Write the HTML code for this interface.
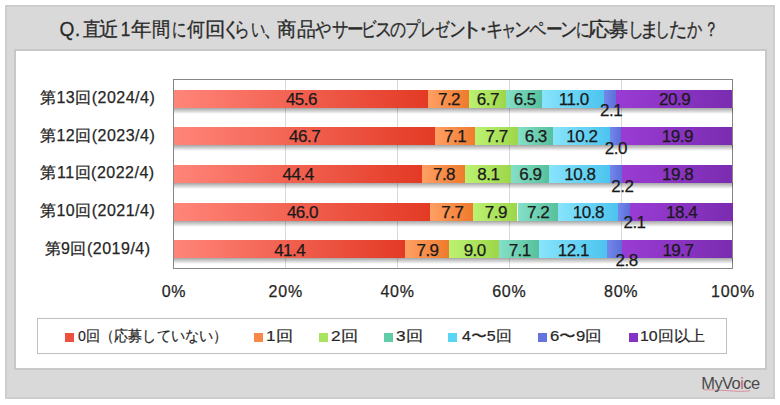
<!DOCTYPE html>
<html><head><meta charset="utf-8"><style>
*{margin:0;padding:0;box-sizing:border-box}
html,body{width:780px;height:405px;background:#fff;overflow:hidden;position:relative;font-family:"Liberation Sans",sans-serif;color:#262626}
#outer{position:absolute;left:5px;top:5px;width:770px;height:394px;background:#d9d9d9;border:2px solid #cdcdcd}
#inner{position:absolute;left:14px;top:49px;width:753px;height:321px;background:#fff;border:2px solid #c8c8c8}
#title span{position:absolute;top:17px;width:40px;text-align:center;font-size:20px;line-height:24px;color:#2a2a2a;-webkit-text-stroke:0.3px #2a2a2a}
#plot{position:absolute;left:173.0px;top:79.0px;width:560.0px;height:189.5px;border:1px solid #868686}
.gl{position:absolute;top:79.5px;height:188.5px;width:1px;background:#d9d9d9}
.seg{position:absolute;height:18.0px}
.sh{position:absolute;left:173.5px;width:559.0px;height:6px;background:linear-gradient(180deg,rgba(0,0,0,0.35),rgba(0,0,0,0))}
.lbl{z-index:3;position:absolute;width:60px;text-align:center;font-size:17px;line-height:20px;letter-spacing:-0.5px;color:#1a1a1a;-webkit-text-stroke:0.25px #1a1a1a}
.cat{-webkit-text-stroke:0.25px #262626;position:absolute;left:17.6px;width:160px;text-align:center;font-size:16px;line-height:20px;letter-spacing:0.5px;white-space:nowrap}
.ax{-webkit-text-stroke:0.25px #262626;position:absolute;top:281.5px;width:80px;text-align:center;font-size:16px;line-height:20px;letter-spacing:0.8px}
#legend{position:absolute;left:37px;top:318px;width:690px;height:36px;border:1px solid #bfbfbf;background:#fff}
.lm{position:absolute;top:332.7px;width:9px;height:9px}
.lt{-webkit-text-stroke:0.2px #262626;position:absolute;top:325.5px;font-size:15px;line-height:20px;white-space:nowrap;transform-origin:left center}

</style></head><body>
<div id="outer"></div>
<div id="title"><span style="left:47.30px;transform:scaleX(0.957) translateX(0.00px)">Q</span><span style="left:57.55px;transform:scaleX(1.000) translateX(0.00px)">.</span><span style="left:70.65px;transform:scaleX(0.889) translateX(0.50px)">直</span><span style="left:89.35px;transform:scaleX(0.972) translateX(0.00px)">近</span><span style="left:105.55px;transform:scaleX(0.856) translateX(-0.50px)">1</span><span style="left:121.15px;transform:scaleX(1.028) translateX(0.00px)">年</span><span style="left:140.60px;transform:scaleX(0.911) translateX(0.00px)">間</span><span style="left:159.25px;transform:scaleX(0.719) translateX(0.00px)">に</span><span style="left:175.65px;transform:scaleX(0.895) translateX(0.00px)">何</span><span style="left:195.40px;transform:scaleX(1.025) translateX(0.00px)">回</span><span style="left:210.30px;transform:scaleX(1.025) translateX(1.00px)">く</span><span style="left:221.70px;transform:scaleX(0.786) translateX(0.00px)">ら</span><span style="left:237.55px;transform:scaleX(0.712) translateX(-0.50px)">い</span><span style="left:247.15px;transform:scaleX(1.000) translateX(5.50px)">、</span><span style="left:266.70px;transform:scaleX(0.967) translateX(0.00px)">商</span><span style="left:285.90px;transform:scaleX(0.944) translateX(0.00px)">品</span><span style="left:302.70px;transform:scaleX(0.811) translateX(0.00px)">や</span><span style="left:319.60px;transform:scaleX(0.822) translateX(0.00px)">サ</span><span style="left:334.75px;transform:scaleX(0.831) translateX(0.00px)">ー</span><span style="left:350.15px;transform:scaleX(0.769) translateX(-2.00px)">ビ</span><span style="left:363.20px;transform:scaleX(0.853) translateX(0.50px)">ス</span><span style="left:377.80px;transform:scaleX(0.800) translateX(0.00px)">の</span><span style="left:394.20px;transform:scaleX(0.758) translateX(-1.50px)">プ</span><span style="left:408.30px;transform:scaleX(0.787) translateX(-0.50px)">レ</span><span style="left:423.45px;transform:scaleX(0.715) translateX(-1.00px)">ゼ</span><span style="left:437.50px;transform:scaleX(0.840) translateX(-0.50px)">ン</span><span style="left:452.85px;transform:scaleX(1.150) translateX(-1.00px)">ト</span><span style="left:463.55px;transform:scaleX(1.000) translateX(-0.50px)">・</span><span style="left:475.10px;transform:scaleX(0.863) translateX(0.00px)">キ</span><span style="left:489.00px;transform:scaleX(0.771) translateX(0.00px)">ャ</span><span style="left:503.35px;transform:scaleX(0.847) translateX(-0.50px)">ン</span><span style="left:518.30px;transform:scaleX(0.863) translateX(-0.50px)">ペ</span><span style="left:533.70px;transform:scaleX(0.837) translateX(0.00px)">ー</span><span style="left:548.85px;transform:scaleX(0.860) translateX(-0.50px)">ン</span><span style="left:562.80px;transform:scaleX(0.688) translateX(0.00px)">に</span><span style="left:579.10px;transform:scaleX(1.111) translateX(0.00px)">応</span><span style="left:599.35px;transform:scaleX(0.972) translateX(0.00px)">募</span><span style="left:615.75px;transform:scaleX(0.792) translateX(-0.50px)">し</span><span style="left:629.25px;transform:scaleX(1.042) translateX(0.00px)">ま</span><span style="left:643.10px;transform:scaleX(0.754) translateX(-0.50px)">し</span><span style="left:658.20px;transform:scaleX(0.906) translateX(0.50px)">た</span><span style="left:674.60px;transform:scaleX(0.758) translateX(-0.50px)">か</span><span style="left:691.00px;transform:scaleX(0.720) translateX(0.00px)">？</span></div>
<div id="inner"></div>
<div class="gl" style="left:285.30px"></div>
<div class="gl" style="left:397.10px"></div>
<div class="gl" style="left:508.90px"></div>
<div class="gl" style="left:620.70px"></div>
<div id="plot"></div>
<div class="sh" style="top:107.55px"></div>
<div class="seg" style="left:173.50px;top:89.55px;width:254.90px;background:linear-gradient(90deg,#ff8579,#e33a25)"></div>
<div class="lbl" style="left:271.45px;top:89.75px">45.6</div>
<div class="seg" style="left:428.40px;top:89.55px;width:40.25px;background:linear-gradient(90deg,#ffa064,#ef7a2c)"></div>
<div class="lbl" style="left:419.03px;top:89.75px">7.2</div>
<div class="seg" style="left:468.65px;top:89.55px;width:37.45px;background:linear-gradient(90deg,#bcf272,#9ed64a)"></div>
<div class="lbl" style="left:457.88px;top:89.75px">6.7</div>
<div class="seg" style="left:506.11px;top:89.55px;width:36.34px;background:linear-gradient(90deg,#84e0c8,#58c09c)"></div>
<div class="lbl" style="left:494.77px;top:89.75px">6.5</div>
<div class="seg" style="left:542.44px;top:89.55px;width:61.49px;background:linear-gradient(90deg,#88e4fc,#4cc4ee)"></div>
<div class="lbl" style="left:543.69px;top:89.75px">11.0</div>
<div class="seg" style="left:603.93px;top:89.55px;width:11.74px;background:linear-gradient(90deg,#7487ec,#5c6fd8)"></div>
<div class="lbl" style="left:581.10px;top:101.40px">2.1</div>
<div class="seg" style="left:615.67px;top:89.55px;width:116.83px;background:linear-gradient(90deg,#9a3cd4,#7a2cb0)"></div>
<div class="lbl" style="left:644.58px;top:89.75px">20.9</div>
<div class="cat" style="top:88.05px">第13回(2024/4)</div>
<div class="sh" style="top:145.25px"></div>
<div class="seg" style="left:173.50px;top:127.25px;width:261.31px;background:linear-gradient(90deg,#ff8579,#e33a25)"></div>
<div class="lbl" style="left:274.66px;top:127.45px">46.7</div>
<div class="seg" style="left:434.81px;top:127.25px;width:39.73px;background:linear-gradient(90deg,#ffa064,#ef7a2c)"></div>
<div class="lbl" style="left:425.18px;top:127.45px">7.1</div>
<div class="seg" style="left:474.54px;top:127.25px;width:43.09px;background:linear-gradient(90deg,#bcf272,#9ed64a)"></div>
<div class="lbl" style="left:466.59px;top:127.45px">7.7</div>
<div class="seg" style="left:517.63px;top:127.25px;width:35.25px;background:linear-gradient(90deg,#84e0c8,#58c09c)"></div>
<div class="lbl" style="left:505.76px;top:127.45px">6.3</div>
<div class="seg" style="left:552.88px;top:127.25px;width:57.08px;background:linear-gradient(90deg,#88e4fc,#4cc4ee)"></div>
<div class="lbl" style="left:551.92px;top:127.45px">10.2</div>
<div class="seg" style="left:609.96px;top:127.25px;width:11.19px;background:linear-gradient(90deg,#7487ec,#5c6fd8)"></div>
<div class="lbl" style="left:585.90px;top:139.20px">2.0</div>
<div class="seg" style="left:621.15px;top:127.25px;width:111.35px;background:linear-gradient(90deg,#9a3cd4,#7a2cb0)"></div>
<div class="lbl" style="left:647.32px;top:127.45px">19.9</div>
<div class="cat" style="top:125.75px">第12回(2023/4)</div>
<div class="sh" style="top:182.95px"></div>
<div class="seg" style="left:173.50px;top:164.95px;width:248.20px;background:linear-gradient(90deg,#ff8579,#e33a25)"></div>
<div class="lbl" style="left:268.10px;top:165.15px">44.4</div>
<div class="seg" style="left:421.70px;top:164.95px;width:43.60px;background:linear-gradient(90deg,#ffa064,#ef7a2c)"></div>
<div class="lbl" style="left:414.00px;top:165.15px">7.8</div>
<div class="seg" style="left:465.30px;top:164.95px;width:45.28px;background:linear-gradient(90deg,#bcf272,#9ed64a)"></div>
<div class="lbl" style="left:458.44px;top:165.15px">8.1</div>
<div class="seg" style="left:510.58px;top:164.95px;width:38.57px;background:linear-gradient(90deg,#84e0c8,#58c09c)"></div>
<div class="lbl" style="left:500.36px;top:165.15px">6.9</div>
<div class="seg" style="left:549.15px;top:164.95px;width:60.37px;background:linear-gradient(90deg,#88e4fc,#4cc4ee)"></div>
<div class="lbl" style="left:549.83px;top:165.15px">10.8</div>
<div class="seg" style="left:609.52px;top:164.95px;width:12.30px;background:linear-gradient(90deg,#7487ec,#5c6fd8)"></div>
<div class="lbl" style="left:592.30px;top:176.70px">2.2</div>
<div class="seg" style="left:621.82px;top:164.95px;width:110.68px;background:linear-gradient(90deg,#9a3cd4,#7a2cb0)"></div>
<div class="lbl" style="left:647.66px;top:165.15px">19.8</div>
<div class="cat" style="top:163.45px">第11回(2022/4)</div>
<div class="sh" style="top:220.65px"></div>
<div class="seg" style="left:173.50px;top:202.65px;width:256.88px;background:linear-gradient(90deg,#ff8579,#e33a25)"></div>
<div class="lbl" style="left:272.44px;top:202.85px">46.0</div>
<div class="seg" style="left:430.38px;top:202.65px;width:43.00px;background:linear-gradient(90deg,#ffa064,#ef7a2c)"></div>
<div class="lbl" style="left:422.38px;top:202.85px">7.7</div>
<div class="seg" style="left:473.38px;top:202.65px;width:44.12px;background:linear-gradient(90deg,#bcf272,#9ed64a)"></div>
<div class="lbl" style="left:465.94px;top:202.85px">7.9</div>
<div class="seg" style="left:517.50px;top:202.65px;width:40.21px;background:linear-gradient(90deg,#84e0c8,#58c09c)"></div>
<div class="lbl" style="left:508.10px;top:202.85px">7.2</div>
<div class="seg" style="left:557.71px;top:202.65px;width:60.31px;background:linear-gradient(90deg,#88e4fc,#4cc4ee)"></div>
<div class="lbl" style="left:558.36px;top:202.85px">10.8</div>
<div class="seg" style="left:618.02px;top:202.65px;width:11.73px;background:linear-gradient(90deg,#7487ec,#5c6fd8)"></div>
<div class="lbl" style="left:604.50px;top:213.20px">2.1</div>
<div class="seg" style="left:629.75px;top:202.65px;width:102.75px;background:linear-gradient(90deg,#9a3cd4,#7a2cb0)"></div>
<div class="lbl" style="left:651.62px;top:202.85px">18.4</div>
<div class="cat" style="top:201.15px">第10回(2021/4)</div>
<div class="sh" style="top:258.35px"></div>
<div class="seg" style="left:173.50px;top:240.35px;width:231.43px;background:linear-gradient(90deg,#ff8579,#e33a25)"></div>
<div class="lbl" style="left:259.71px;top:240.55px">41.4</div>
<div class="seg" style="left:404.93px;top:240.35px;width:44.16px;background:linear-gradient(90deg,#ffa064,#ef7a2c)"></div>
<div class="lbl" style="left:397.51px;top:240.55px">7.9</div>
<div class="seg" style="left:449.09px;top:240.35px;width:50.31px;background:linear-gradient(90deg,#bcf272,#9ed64a)"></div>
<div class="lbl" style="left:444.74px;top:240.55px">9.0</div>
<div class="seg" style="left:499.40px;top:240.35px;width:39.69px;background:linear-gradient(90deg,#84e0c8,#58c09c)"></div>
<div class="lbl" style="left:489.74px;top:240.55px">7.1</div>
<div class="seg" style="left:539.09px;top:240.35px;width:67.64px;background:linear-gradient(90deg,#88e4fc,#4cc4ee)"></div>
<div class="lbl" style="left:543.41px;top:240.55px">12.1</div>
<div class="seg" style="left:606.73px;top:240.35px;width:15.65px;background:linear-gradient(90deg,#7487ec,#5c6fd8)"></div>
<div class="lbl" style="left:596.70px;top:251.20px">2.8</div>
<div class="seg" style="left:622.38px;top:240.35px;width:110.12px;background:linear-gradient(90deg,#9a3cd4,#7a2cb0)"></div>
<div class="lbl" style="left:647.94px;top:240.55px">19.7</div>
<div class="cat" style="top:238.85px">第9回(2019/4)</div>
<div class="ax" style="left:134.00px">0%</div>
<div class="ax" style="left:245.80px">20%</div>
<div class="ax" style="left:357.60px">40%</div>
<div class="ax" style="left:469.40px">60%</div>
<div class="ax" style="left:581.20px">80%</div>
<div class="ax" style="left:693.00px">100%</div>
<div id="legend"></div>
<div class="lm" style="left:65.0px;background:#ee5040"></div><div class="lt" style="left:77.56px;transform:scaleX(0.9422)">0回（応募していない）</div>
<div class="lm" style="left:253.5px;background:#f88848"></div><div class="lt" style="left:265.85px;transform:scaleX(1.1500)">1回</div>
<div class="lm" style="left:318.7px;background:#a8e460"></div><div class="lt" style="left:330.85px;transform:scaleX(1.1500)">2回</div>
<div class="lm" style="left:384.2px;background:#60cca8"></div><div class="lt" style="left:395.85px;transform:scaleX(1.1500)">3回</div>
<div class="lm" style="left:448.3px;background:#58d4f4"></div><div class="lt" style="left:461.80px;transform:scaleX(1.0644)">4〜5回</div>
<div class="lm" style="left:538.4px;background:#6474dc"></div><div class="lt" style="left:549.89px;transform:scaleX(1.1136)">6〜9回</div>
<div class="lm" style="left:628.5px;background:#8434c4"></div><div class="lt" style="left:639.94px;transform:scaleX(1.0600)">10回以上</div>
<svg id="logo" width="70" height="26" viewBox="0 0 70 26" style="position:absolute;left:698px;top:372px">
<path d="M5 17.6 Q 25 18.2 40 19.3 Q 47 19.6 52 18.8" stroke="#d88a98" stroke-width="0.9" fill="none"/>
<text x="3.3" y="16.75" font-family="Liberation Sans" font-size="16.5" fill="#4a4a4a" letter-spacing="-0.6">MyVo<tspan fill="#c8607a">i</tspan>ce</text>
</svg>
</body></html>
